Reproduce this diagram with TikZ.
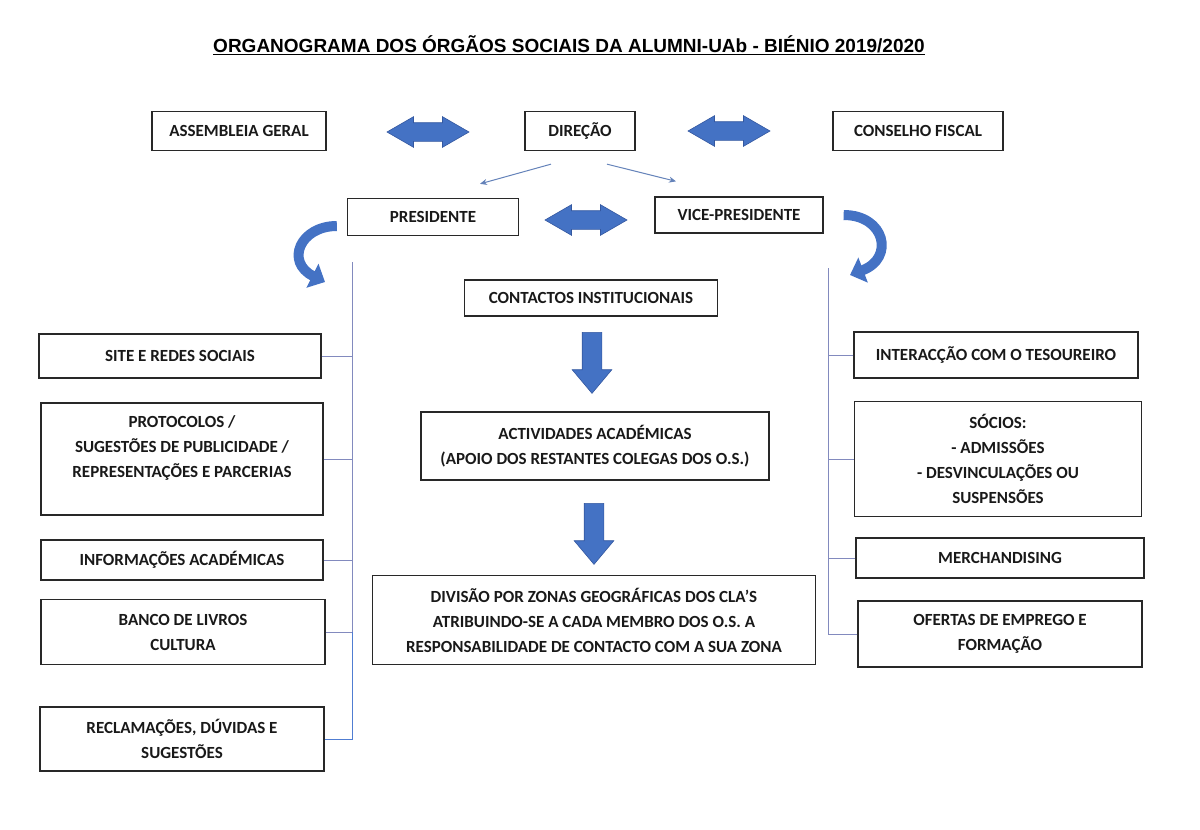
\documentclass[tikz,border=0pt]{standalone}
\usepackage{fontspec}
\setmainfont{Carlito}
\newfontfamily\titlefont{Liberation Sans}
\usetikzlibrary{arrows.meta,shapes.arrows,calc}
\definecolor{arrowblue}{RGB}{68,114,196}
\definecolor{arrowedge}{RGB}{52,88,160}
\definecolor{thinblue}{RGB}{100,130,185}
\definecolor{trunkgray}{RGB}{130,138,190}
\definecolor{trunkblue}{RGB}{80,125,210}
\definecolor{boxline}{RGB}{40,40,40}
\tikzset{
  box/.style={draw=boxline, line width=1.3pt, align=center, inner sep=2pt, font=\bfseries\fontsize{17}{25}\selectfont, text=black!90},
  bigarrow/.style={double arrow, fill=arrowblue, draw=arrowedge, line width=0.6pt, inner sep=9pt, double arrow head extend=6pt, double arrow tip angle=60},
  downarrow/.style={single arrow, shape border rotate=270, fill=arrowblue, draw=arrowedge, line width=0.6pt, inner sep=9.5pt, single arrow head extend=10pt, single arrow tip angle=80, minimum height=61pt},
  thinarrow/.style={-{Stealth[length=7pt,width=6pt]}, draw=thinblue, line width=1pt},
  bendarrow/.style={-{Triangle[length=14pt,width=26pt]}, draw=arrowblue, line width=10pt},
  branch/.style={draw=trunkgray, line width=1pt}
}
\begin{document}
\begin{tikzpicture}[x=1pt,y=-1pt]
\useasboundingbox (0,0) rectangle (1200,830);
\node[font=\titlefont\bfseries\fontsize{19}{23}\selectfont] (titulo) at (569,45) {\underline{ORGANOGRAMA DOS ÓRGÃOS SOCIAIS DA ALUMNI-UAb - BIÉNIO 2019/2020}};

% topo
\node[box, minimum width=174pt, minimum height=39pt] (assembleia) at (239,131) {ASSEMBLEIA GERAL};
\node[box, minimum width=110pt, minimum height=39pt] (direcao) at (580,131) {DIREÇÃO};
\node[box, minimum width=170pt, minimum height=39pt] (conselho) at (918,131) {CONSELHO FISCAL};
\node[box, minimum width=171pt, minimum height=37pt] (presidente) at (433,217) {PRESIDENTE};
\node[box, minimum width=168pt, minimum height=36pt] (vice) at (739,215) {VICE-PRESIDENTE};

\node[bigarrow, minimum height=82pt] (ag-dir) at (428,132) {};
\node[bigarrow, minimum height=82pt] (dir-cf) at (729,131) {};
\node[bigarrow, minimum height=82pt] (pres-vice) at (586,220) {};

\draw[thinarrow] ($(direcao.south)+(-29,13)$) -- ($(presidente.north)+(47,-14)$);
\draw[thinarrow] ($(direcao.south)+(27,13)$) -- ($(vice.north)+(-63,-15)$);

% centro
\node[box, minimum width=253pt, minimum height=36pt] (contactos) at (591,298) {CONTACTOS INSTITUCIONAIS};
\node[box, minimum width=348pt, minimum height=68pt] (actividades) at (595,446) {ACTIVIDADES ACADÉMICAS\\(APOIO DOS RESTANTES COLEGAS DOS O.S.)};
\node[box, minimum width=443pt, minimum height=89pt] (divisao) at (594,620) {DIVISÃO POR ZONAS GEOGRÁFICAS DOS CLA’S\\ATRIBUINDO-SE A CADA MEMBRO DOS O.S. A\\RESPONSABILIDADE DE CONTACTO COM A SUA ZONA};
\node[downarrow] (seta1) at (592,357) {};
\node[downarrow] (seta2) at (594,528) {};

% lado esquerdo
\node[box, minimum width=282pt, minimum height=44pt] (site) at (180,356) {SITE E REDES SOCIAIS};
\node[box, minimum width=282pt, minimum height=112pt] (protocolos) at (182,459) {PROTOCOLOS /\\SUGESTÕES DE PUBLICIDADE /\\REPRESENTAÇÕES E PARCERIAS\\~};
\node[box, minimum width=282pt, minimum height=40pt] (informacoes) at (182,560) {INFORMAÇÕES ACADÉMICAS};
\node[box, minimum width=284pt, minimum height=65pt] (banco) at (183,632) {BANCO DE LIVROS\\CULTURA};
\node[box, minimum width=284pt, minimum height=64pt] (reclamacoes) at (182,739) {RECLAMAÇÕES, DÚVIDAS E\\SUGESTÕES};

% lado direito
\node[box, minimum width=284pt, minimum height=46pt] (tesoureiro) at (996,355) {INTERACÇÃO COM O TESOUREIRO};
\node[box, minimum width=287pt, minimum height=115pt] (socios) at (998,459) {SÓCIOS:\\- ADMISSÕES\\- DESVINCULAÇÕES OU\\SUSPENSÕES};
\node[box, minimum width=288pt, minimum height=40pt] (merch) at (1000,558) {MERCHANDISING};
\node[box, minimum width=284pt, minimum height=66pt] (ofertas) at (1000,634) {OFERTAS DE EMPREGO E\\FORMAÇÃO};

% ligacoes
\coordinate (ltop) at (352,262);
\coordinate (rtop) at (828,268);
\draw[bendarrow] ($(presidente.west)+(-10,9)$) .. controls (300,226) and (285,262) .. (325,282);
\draw[bendarrow] ($(vice.east)+(20,0)$) .. controls (885,215) and (895,258) .. (850,275);

\draw[branch] (ltop) -- (ltop |- banco.east);
\draw[branch, draw=trunkblue] (ltop |- banco.east) |- (reclamacoes.east);
\foreach \n in {site,protocolos,informacoes,banco}
  \draw[branch] (\n.east) -- (\n.east -| ltop);
\draw[branch] (rtop) -- (rtop |- ofertas.west);
\foreach \n in {tesoureiro,socios,merch,ofertas}
  \draw[branch] (\n.west) -- (\n.west -| rtop);
\end{tikzpicture}
\end{document}
